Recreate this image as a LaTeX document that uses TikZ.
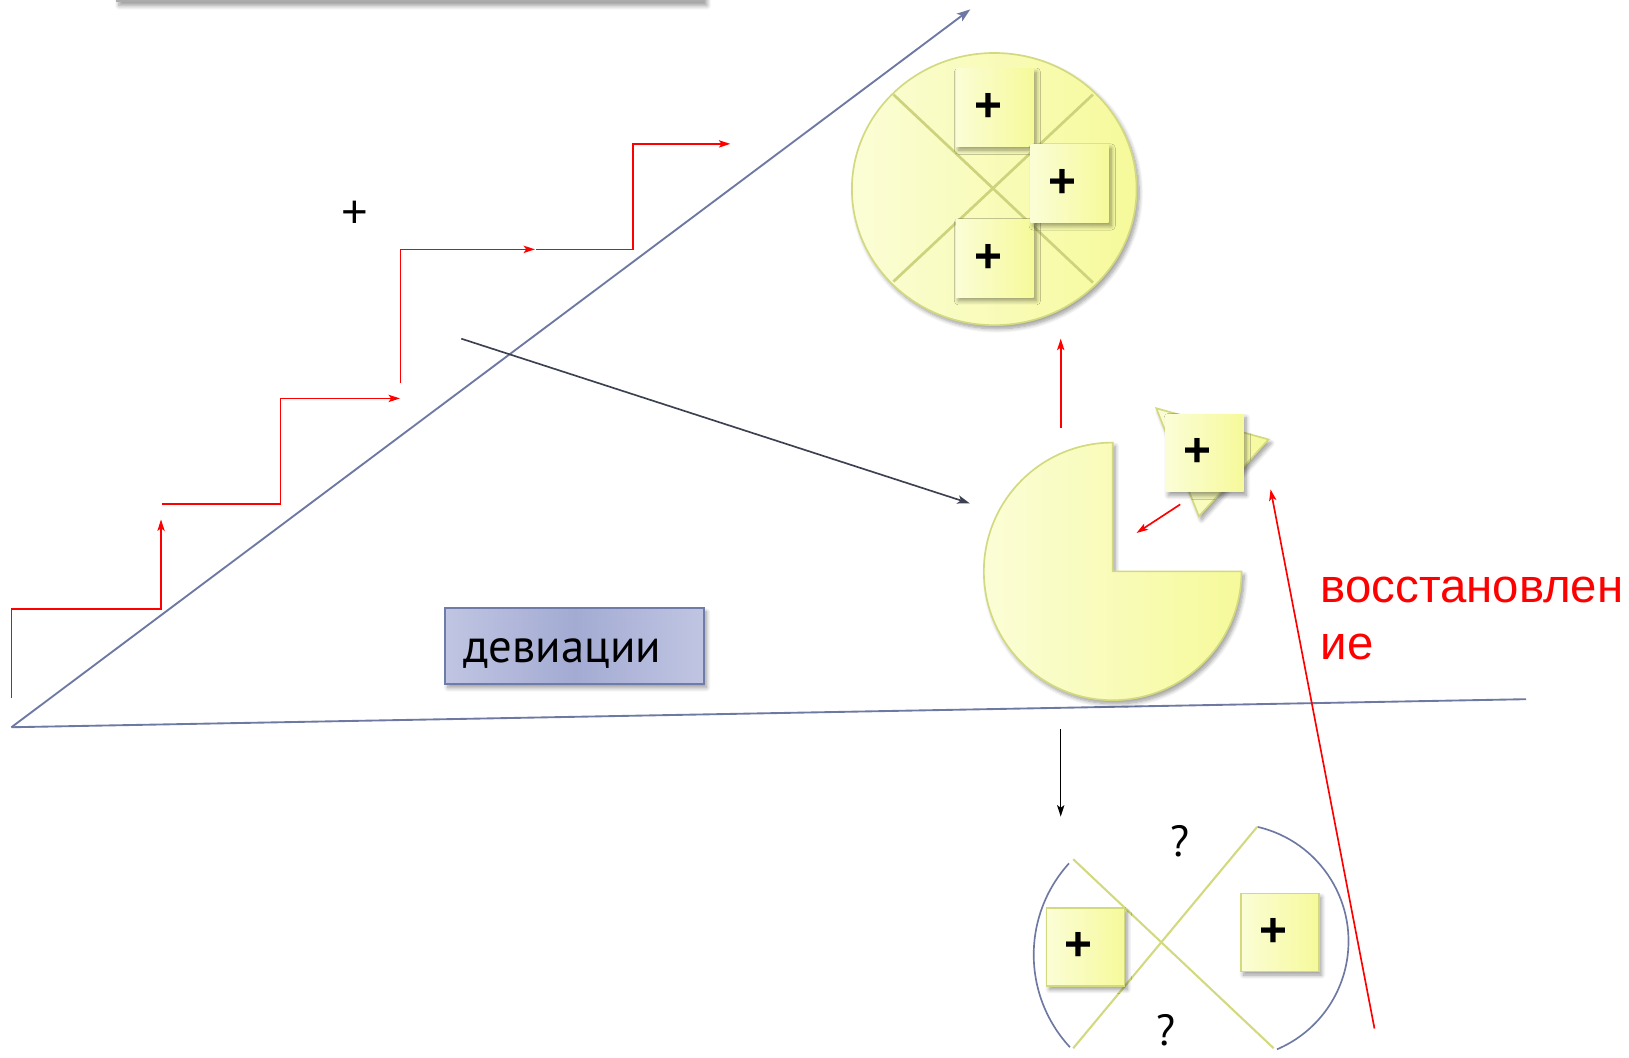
\documentclass[tikz,border=0pt]{standalone}
\usepackage{fontspec}
\setmainfont{Liberation Sans}
\newfontfamily\labelfont{PT Sans}
\usetikzlibrary{arrows.meta,shadows.blur,calc}

\definecolor{padfill}{HTML}{F6FA9A}
\definecolor{padlight}{HTML}{FBFDD6}
\definecolor{padline}{HTML}{D2D97E}
\definecolor{crossfill}{HTML}{CCD37C}
\definecolor{slate}{HTML}{6E79A3}
\definecolor{darkline}{HTML}{3C4152}
\definecolor{boxmid}{HTML}{A3ABD3}
\definecolor{boxedge}{HTML}{C0C5E2}
\definecolor{boxline}{HTML}{6F7BA8}
\definecolor{barfill}{HTML}{ABABAB}

\tikzset{
  softshadow/.style={blur shadow={shadow xshift=2.5pt,shadow yshift=-3.5pt,shadow blur radius=4pt,
                     shadow blur steps=8,shadow opacity=40}},
  yellowshape/.style={draw=padline,line width=1.6pt,left color=padlight,right color=padfill,softshadow},
  pad/.style={minimum width=75pt,minimum height=75pt,inner sep=0pt,
              left color=padlight,right color=padfill,softshadow,
              font=\fontsize{46}{46}\selectfont\bfseries},
  framedpad/.style={pad,draw=padline,line width=1.4pt},
  crossline/.style={draw=crossfill,line width=2.6pt},
  axisline/.style={draw=slate,line width=1.8pt},
  redarrow/.style={draw=red,line width=1.6pt,-{Stealth[length=11pt,width=7pt,inset=2.5pt]}},
  redline/.style={draw=red,line width=1.6pt},
  qmark/.style={font=\labelfont\fontsize{42}{42}\selectfont,inner sep=0pt},
  redtext/.style={text=red,font=\fontsize{45.6}{45.6}\selectfont,inner sep=0pt,anchor=base west}
}
% tile mark sits a little left of the tile centre
\newcommand{\tilemark}{\hspace*{-13pt}+}

\begin{document}
\begin{tikzpicture}[x=1pt,y=-1pt]
\useasboundingbox (0,0) rectangle (1568,1018);

% grey bar along the top edge
\fill[barfill,softshadow] (112,-20) rectangle (678,2);

% axes: rising trend line and horizontal base
\coordinate (origin) at (11,700);
\coordinate (trendtip) at (934,9);
\coordinate (baseend) at (1469,673);
\draw[axisline,-{Stealth[length=13pt,width=9pt,inset=3pt]}] (origin) -- (trendtip);
\draw[axisline] (origin) -- (baseend);

% red staircase of steps
\coordinate (s1a) at (11,672);
\coordinate (s1b) at (155,500);
\draw[redarrow] (s1a) |- (155,586) -- (s1b);
\coordinate (s2a) at (155.5,485);
\coordinate (s2b) at (385,383.5);
\draw[redarrow] (s2a) -| (270,383.5) -- (s2b);
\coordinate (s3a) at (385.5,369);
\coordinate (s3b) at (515,240);
\draw[redarrow] (s3a) |- (s3b);
\coordinate (s4a) at (516,240);
\coordinate (s4b) at (703,138.5);
\draw[redline] (s4a) -| (609,200);
\draw[redarrow] (609,200) |- (s4b);

\node[font=\fontsize{44}{44}\selectfont,inner sep=0pt] (plusfree) at (342,206) {+};

% label box
\node[draw=boxline,line width=1.6pt,left color=boxedge,right color=boxedge,middle color=boxmid,
      minimum width=249pt,minimum height=73pt,softshadow] (devbox) at (553,622) {};
\node[font=\labelfont\fontsize{45}{45}\selectfont,anchor=base west,inner sep=0pt] (devtext) at (446,638) {девиации};

% dark arrow into the broken disc
\coordinate (darkstart) at (444,326);
\coordinate (darktip) at (933.5,484.5);
\draw[draw=darkline,line width=1.6pt,-{Stealth[length=12pt,width=8pt,inset=3pt]}] (darkstart) -- (darktip);

% whole disc split in four
\draw[yellowshape] (957,182) ellipse [x radius=137pt,y radius=131pt];
\coordinate (xa) at (860,91);
\coordinate (xb) at (1052,272);
\coordinate (xc) at (1052,91);
\coordinate (xd) at (860,271);
\draw[crossline] (xa) -- (xb);
\draw[crossline] (xc) -- (xd);
\node[pad] (padtop) at (957.5,103.5) {\tilemark};
\node[pad] (padbottom) at (957.5,248.5) {\tilemark};
\node[pad] (padright) at (1029.5,176.5) {\tilemark};

% arrow from broken disc up to the whole disc
\coordinate (upstart) at (1021,412);
\coordinate (uptip) at (1021,326);
\draw[redarrow] (upstart) -- (uptip);

% disc with a missing quarter
\draw[yellowshape] (1071,550) -- ++(0pt,124pt) arc[start angle=90,end angle=360,radius=124pt] -- cycle;

% loose piece: triangle with a tile
\draw[yellowshape] (1113,393) -- (1221,423) -- (1154,497) -- cycle;
\node[pad] (padloose) at (1159.5,436) {\tilemark};

\coordinate (backstart) at (1136,485.5);
\coordinate (backtip) at (1094,513);
\draw[redarrow] (backstart) -- (backtip);

% recovery arrow and caption
\coordinate (recstart) at (1323,990);
\coordinate (rectip) at (1223,471);
\draw[redarrow] (recstart) -- (rectip);
\node[redtext] (rec1) at (1271,580) {восстановлен};
\node[redtext] (rec2) at (1271,635) {ие};

% arrow down to the broken figure
\coordinate (downstart) at (1021,702);
\coordinate (downtip) at (1021,786);
\draw[draw=black,line width=1.4pt,-{Stealth[length=11pt,width=7pt,inset=2.5pt]}] (downstart) -- (downtip);

% broken figure: two arcs and a cross
\draw[axisline,line width=1.6pt] ($(1126,919)+(137.8:131pt)$) arc[start angle=137.8,end angle=222.8,radius=131pt];
\draw[axisline,line width=1.6pt] ($(1185,906)+(77:113pt)$) arc[start angle=77,end angle=-67,radius=113pt];
\coordinate (ya) at (1033,827);
\coordinate (yb) at (1226,1009);
\coordinate (yc) at (1210,796);
\coordinate (yd) at (1033,1009);
\draw[crossline,draw=padline,line width=2pt] (ya) -- (yb);
\draw[crossline,draw=padline,line width=2pt] (yc) -- (yd);
\node[framedpad] (padleft) at (1045,911.5) {\tilemark};
\node[framedpad] (padfar) at (1232,897.5) {\tilemark};
\node[qmark] (qtop) at (1136,810) {?};
\node[qmark] (qbottom) at (1122,992) {?};

\end{tikzpicture}
\end{document}
